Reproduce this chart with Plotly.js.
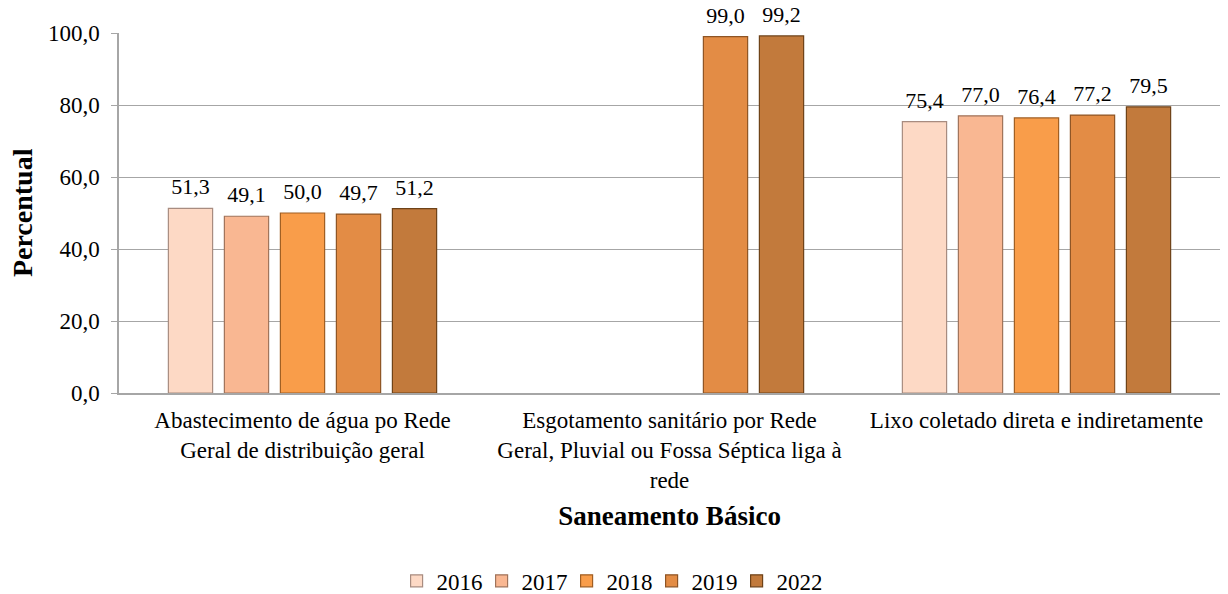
<!DOCTYPE html>
<html>
<head>
<meta charset="utf-8">
<script src="https://cdn.plot.ly/plotly-3.0.1.min.js"></script>
<style>html,body{margin:0;padding:0;background:#fff;}#chart{width:1228px;height:594px;}</style>
</head>
<body>
<div id="chart"></div>
<script>
const categories = [
  "Abastecimento de água po Rede<br>Geral de distribuição geral",
  "Esgotamento sanitário por Rede<br>Geral, Pluvial ou Fossa Séptica liga à<br>rede",
  "Lixo coletado direta e indiretamente"
];
const years = ["2016", "2017", "2018", "2019", "2022"];
const v2016 = [51.3, null, 75.4];
const v2017 = [49.1, null, 77.0];
const v2018 = [50.0, null, 76.4];
const v2019 = [49.7, 99.0, 77.2];
const v2022 = [51.2, 99.2, 79.5];
const yTicks = [0, 20, 40, 60, 80, 100];
const yTitle = "Percentual";
const xTitle = "Saneamento Básico";

const series = [v2016, v2017, v2018, v2019, v2022];
const colors = ["#FDD9C5", "#F9B792", "#F99D4A", "#E38C45", "#C27A3C"];
const lineColors = ["#A88C80", "#A0735A", "#A05E22", "#8E5424", "#6E4218"];
const font = '"Liberation Serif", "Times New Roman", serif';
const BARGAP = 0.237;

const barTraces = series.map((vals, i) => ({
  type: "bar",
  name: years[i],
  x: categories,
  y: vals,
  marker: { color: colors[i], line: { color: lineColors[i], width: 1.2 } },
  hoverinfo: "x+y+name"
}));

const labelTraces = series.map((vals, i) => ({
  type: "scatter",
  mode: "markers+text",
  x: categories,
  y: vals,
  marker: { size: 12, opacity: 0, color: colors[i] },
  texttemplate: "%{y:.1f}",
  textposition: "top center",
  textfont: { family: font, size: 22, color: "#000" },
  cliponaxis: false,
  showlegend: false,
  hoverinfo: "skip"
}));

const layout = {
  width: 1228,
  height: 594,
  margin: { l: 119, r: 8, t: 33, b: 201, autoexpand: false },
  paper_bgcolor: "#fff",
  plot_bgcolor: "#fff",
  separators: ",.",
  barmode: "group",
  bargap: BARGAP,
  bargroupgap: 0.21,
  scattermode: "group",
  scattergap: BARGAP,
  font: { family: font, size: 23, color: "#000" },
  showlegend: true,
  legend: {
    orientation: "h",
    xref: "container", yref: "paper",
    x: 0.496, xanchor: "center",
    y: -0.522, yanchor: "middle",
    font: { family: font, size: 23, color: "#000" },
    itemwidth: 30,
    entrywidth: 40,
    traceorder: "normal"
  },
  annotations: [{
    text: "<b>" + yTitle + "</b>",
    xref: "paper", yref: "paper",
    x: -0.088, y: 0.5,
    xanchor: "center", yanchor: "middle",
    textangle: -90,
    showarrow: false,
    font: { family: font, size: 28, color: "#000" }
  }],
  xaxis: {
    type: "category",
    showline: true,
    linecolor: "#A6A6A6",
    linewidth: 1.5,
    ticks: "",
    ticklabelstandoff: 6,
    tickfont: { family: font, size: 23, color: "#000" },
    title: { text: "<b>" + xTitle + "</b>", font: { family: font, size: 27, color: "#000" }, standoff: 14 },
    automargin: false
  },
  yaxis: {
    range: [0, 100],
    tickvals: yTicks,
    tickformat: ".1f",
    showgrid: true,
    gridcolor: "#A6A6A6",
    gridwidth: 1.3,
    showline: true,
    linecolor: "#A6A6A6",
    linewidth: 1.5,
    ticks: "outside",
    ticklen: 6,
    tickcolor: "#A6A6A6",
    ticklabelstandoff: 7,
    zeroline: false,
    tickfont: { family: font, size: 23, color: "#000" },
    automargin: false
  }
};

Plotly.newPlot("chart", barTraces.concat(labelTraces), layout, { displayModeBar: false, responsive: false });
</script>
</body>
</html>
